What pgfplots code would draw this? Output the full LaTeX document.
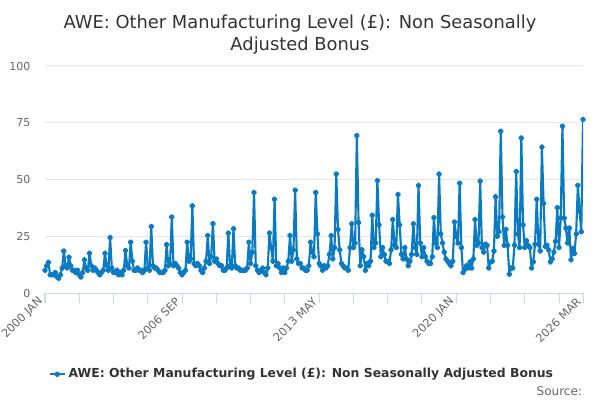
\documentclass[border=0pt]{standalone}
\usepackage{pgfplots}
\usepackage{pgfplotstable}
\pgfplotsset{compat=1.18}
\usepackage{fontspec}
\setmainfont{DejaVu Sans}
\definecolor{series}{HTML}{0A7BC1}
\definecolor{titlec}{HTML}{333333}
\definecolor{tickc}{HTML}{666666}
\definecolor{gridc}{HTML}{E6E6E6}
\definecolor{axisc}{HTML}{CCD6EB}
\pgfplotstableread{
y
10
12
13.5
8
8
8
9
7
6.5
8
11
18.5
12
11
15.7
12
10
10
9
10
8
7
9
14.6
11
10
17.5
12
10
11
10
9
8
9
10
17.5
12
10
24.4
11
9
9
10
8
9
8
10
18.7
12
11
22.4
14
10
10
11
10
10
9
10
22.4
11
10
29.3
12
11
11
10
9
9
9
10
21.3
12
13
33.5
12
13
12
11
9
8
9
10
22.4
14
15
38.4
13
12
13
12
10
9
11
14
25.3
13
16
30.5
14
15
13
12
12
10
10
11
26.4
12
11
28.3
12
11
11
10
10
10
10
11
22.4
13
18
44.3
12
10
9
10
11
9
8
11
26.4
20
14
41.3
12
13
11
9
11
9
11
14
25.3
14
19
45.3
15
13
13
11
11
10
10
12
22.4
18
16
44.3
26
13
12
10
12
11
12
17
25.3
15
20
52.4
28
19
13
12
11
11
10
20
30.5
20
22
69.3
31
12
19
16
10
13
12
14
34.2
20
22
49.5
30
16
20
17
14
14
13
19
32.4
21
20
43.4
30
17
15
20
15
12
14
17
30.5
20
17
47.4
22
16
20
16
14
13
13
16
33.2
22
20
52.4
26
22
18
15
14
13
12
14
31.3
25
22
48.4
20
9
10.4
12
11
13.7
11
15
32.4
21
22
49.3
20
18
21.5
21
11
13.7
14
18.5
42.4
25
27
71.3
33.5
21
28
21
8.3
11
11
21
53.5
26
20
68.3
30
20
23
21
20
11
13.7
21.5
41.3
21.5
18.5
64.3
39.5
20.5
21
19
13.7
15
18
22.8
37.6
20
33
73.5
33
28.6
22
28.6
14.6
19.6
17.4
26
47.4
36
27
76.4
}\datatable
\begin{document}
\begin{tikzpicture}
\useasboundingbox (0,0) rectangle (450pt,300pt);
\node[anchor=base, text=titlec, font=\fontsize{13.4}{16}\selectfont] at (225pt,278.25pt) {AWE: Other Manufacturing Level (£): Non Seasonally};
\node[anchor=base, text=titlec, font=\fontsize{13.4}{16}\selectfont] at (225pt,262pt) {Adjusted Bonus};
\node[anchor=base east, text=tickc, font=\fontsize{9}{11}\selectfont] at (440pt,3.75pt) {Source:};
\begin{axis}[
  at={(33.75pt,80.25pt)}, anchor=south west,
  scale only axis, width=403.5pt, height=170.25pt,
  xmin=0, xmax=314, ymin=0, ymax=100,
  axis x line*=bottom, axis y line*=left,
  y axis line style={draw=none},
  x axis line style={color=axisc, line width=0.75pt, -},
  xtick={0,20,...,300,314},
  xticklabels={2000 JAN,,,,2006 SEP,,,,2013 MAY,,,,2020 JAN,,,,2026 MAR},
  tick align=outside,
  x tick style={color=axisc, line width=0.75pt},
  major tick length=7.5pt,
  ytick={0,25,50,75,100},
  y tick style={draw=none},
  ymajorgrids,
  grid style={color=gridc, line width=0.75pt},
  /pgf/number format/assume math mode=true,
  xticklabel style={rotate=45, anchor=east, text=tickc, font=\fontsize{8.5}{10}\selectfont, xshift=3pt, yshift=4pt},
  yticklabel style={text=tickc, font=\fontsize{8.25}{10}\selectfont, xshift=0pt},
  legend style={at={(0.478,-0.358)}, anchor=center, draw=none, fill=none,
    font=\bfseries\fontsize{9.3}{11}\selectfont, text=titlec},
  legend image code/.code={\draw[mark repeat=2,mark phase=2,#1] plot coordinates {(0cm,0cm) (0.2cm,0cm) (0.4cm,0cm)};},
]
\addplot[color=series, line width=1.6pt, mark=*, mark size=1.4pt, line join=round] table[x expr=\coordindex, y=y] {\datatable};
\addlegendentry{AWE: Other Manufacturing Level (£): Non Seasonally Adjusted Bonus}
\end{axis}
\end{tikzpicture}
\end{document}
